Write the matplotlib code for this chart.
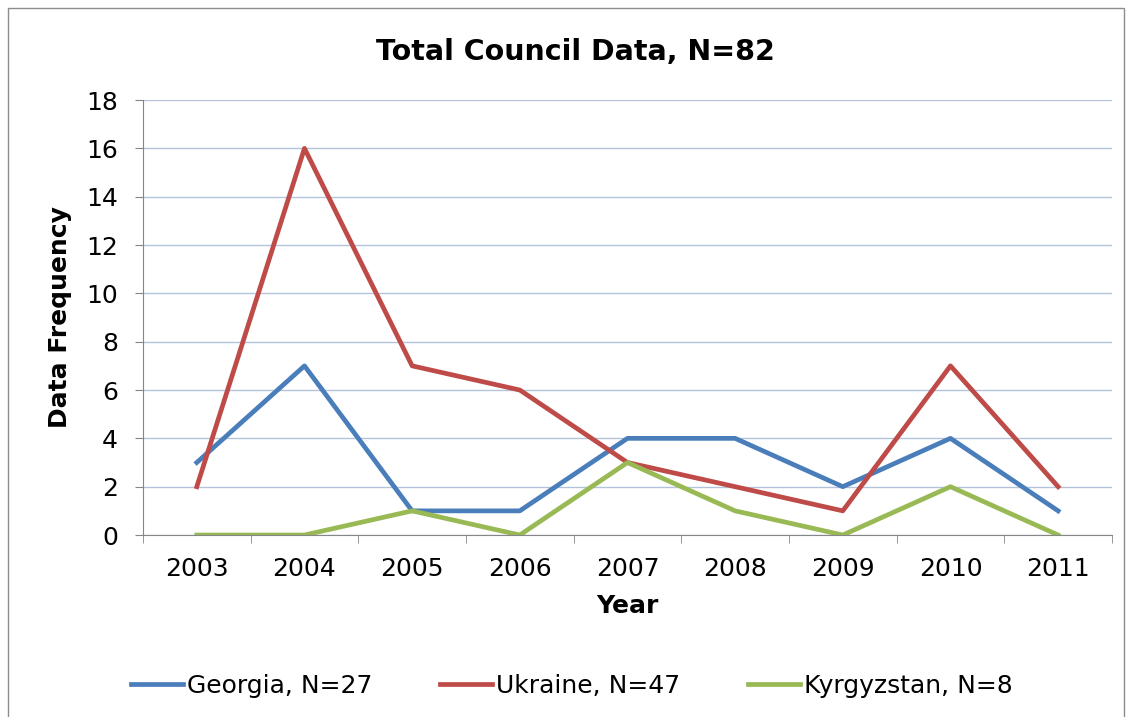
import matplotlib.pyplot as plt
from matplotlib.patches import Rectangle

years = ["2003", "2004", "2005", "2006", "2007", "2008", "2009", "2010", "2011"]
georgia = [3, 7, 1, 1, 4, 4, 2, 4, 1]
ukraine = [2, 16, 7, 6, 3, 2, 1, 7, 2]
kyrgyzstan = [0, 0, 1, 0, 3, 1, 0, 2, 0]

plt.rcParams['font.family'] = ['DejaVu Sans']

fig = plt.figure(figsize=(11.32, 7.17), dpi=100)
fig.patches.append(Rectangle((0.007, -0.01), 0.986, 0.999, transform=fig.transFigure,
                             fill=False, edgecolor='#8c8c8c', linewidth=1))
ax = fig.add_axes([0.1263, 0.2538, 0.856, 0.6067])

x = list(range(len(years)))
ax.plot(x, georgia, color='#4A7EBB', linewidth=3.4, label='Georgia, N=27')
ax.plot(x, ukraine, color='#BE4B48', linewidth=3.4, label='Ukraine, N=47')
ax.plot(x, kyrgyzstan, color='#98B954', linewidth=3.4, label='Kyrgyzstan, N=8')

ax.set_xlim(-0.5, len(years) - 0.5)
ax.set_ylim(0, 18)
ax.set_yticks(range(0, 19, 2))
ax.set_xticks(x)
ax.set_xticklabels(years)
ax.set_xticks([i + 0.5 for i in range(-1, len(years))], minor=True)
ax.tick_params(axis='x', which='major', length=0, labelsize=18, pad=16)
ax.tick_params(axis='x', which='minor', length=6, color='#868686')
ax.tick_params(axis='y', length=6, color='#868686', labelsize=18, pad=12)
ax.grid(axis='y', color='#B3C4DA', linewidth=1)
ax.set_axisbelow(True)
for s in ['top', 'right']:
    ax.spines[s].set_visible(False)
ax.spines['left'].set_color('#868686')
ax.spines['bottom'].set_color('#868686')

fig.text(0.508, 0.928, 'Total Council Data, N=82', fontsize=20.5, fontweight='bold',
         ha='center', va='center')
ax.set_xlabel('Year', fontsize=18, fontweight='bold', labelpad=9)
ax.set_ylabel('Data Frequency', fontsize=18, fontweight='bold', labelpad=10)

fig.legend(loc='center', bbox_to_anchor=(0.505, 0.043), ncol=3, frameon=False,
           fontsize=18, handlelength=2.1, columnspacing=2.7, handletextpad=0.15)

fig.savefig('out.png', dpi=100)
